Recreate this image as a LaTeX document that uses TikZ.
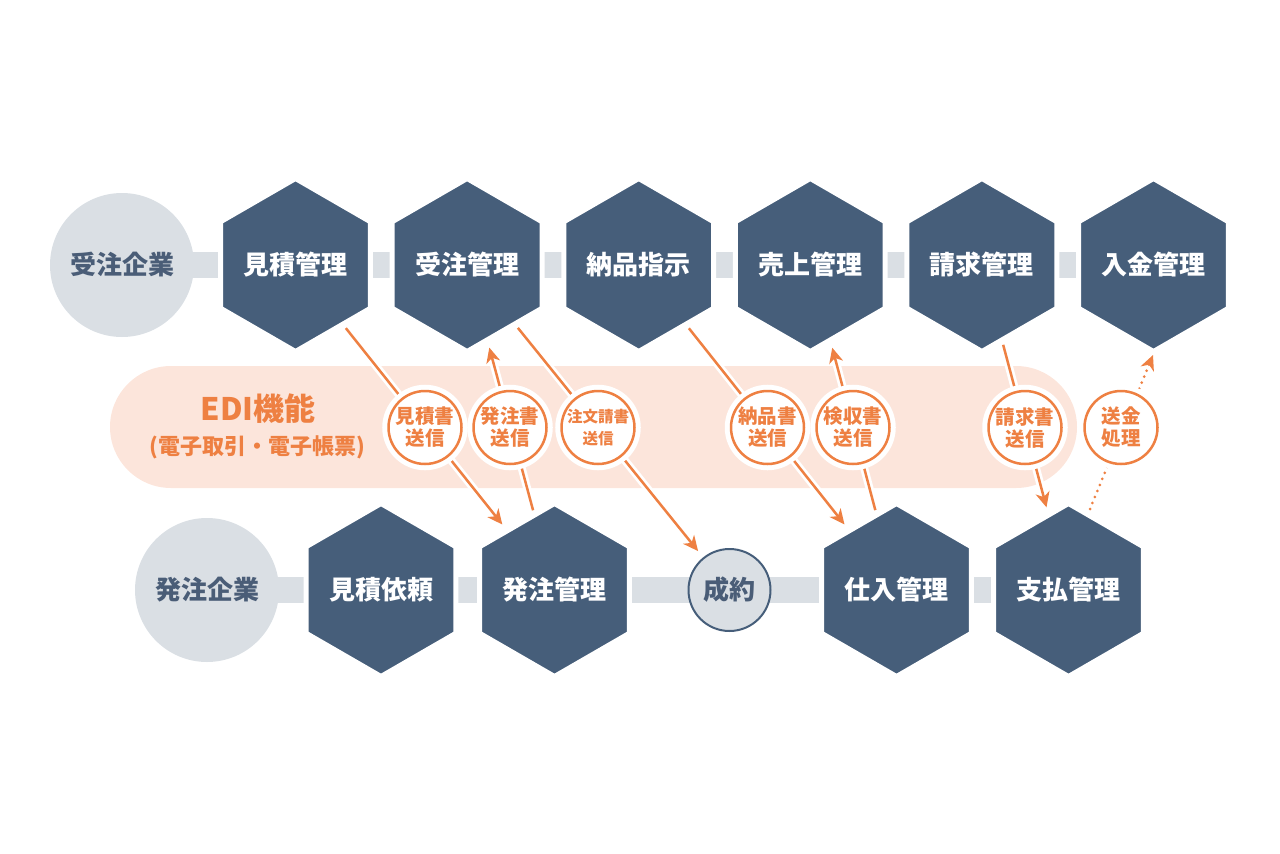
\documentclass[tikz,border=0pt]{standalone}
\usepackage{fontspec}
\setmainfont{Noto Sans CJK JP}
\usetikzlibrary{shapes.geometric,arrows.meta,backgrounds}
\definecolor{hexblue}{HTML}{465E7A}
\definecolor{lgray}{HTML}{DADFE4}
\definecolor{gtext}{HTML}{4A5D77}
\definecolor{edio}{HTML}{EE8042}
\definecolor{peach}{HTML}{FCE5DB}
\begin{document}
\begin{tikzpicture}[x=1pt,y=-1pt,
  hexnode/.style={regular polygon, regular polygon sides=6, shape border rotate=30,
    minimum size=173pt, inner sep=0pt, outer sep=0pt, fill=hexblue, draw=white,
    line width=5pt, text=white, font=\bfseries\fontsize{26}{30}\selectfont},
  company/.style={circle, fill=lgray, minimum size=144pt, inner sep=0pt,
    text=gtext, font=\bfseries\fontsize{26}{30}\selectfont},
  deal/.style={circle, fill=lgray, draw=hexblue, line width=2pt, minimum size=82pt,
    inner sep=0pt, text=gtext, font=\bfseries\fontsize{26}{30}\selectfont},
  lab/.style={circle, fill=white, draw=edio, line width=2.5pt, minimum size=73pt,
    inner sep=0pt, text=edio, align=center, font=\bfseries\fontsize{19.5}{22}\selectfont,
    preaction={draw=white, line width=12.5pt}},
  bar/.style={draw=lgray, line width=26pt},
  halo/.style={draw=white, line width=8pt, shorten <=5pt, shorten >=8pt},
  arr/.style={draw=edio, line width=2.5pt, -{Stealth[length=15pt,width=14pt,inset=4.5pt]},
    shorten <=5pt, shorten >=8pt},
  dotarr/.style={draw=edio, line width=3pt, dash pattern=on 0pt off 6.5pt, line cap=round,
    -{Stealth[length=15pt,width=14pt,inset=4.5pt]}}
]
\useasboundingbox (0,0) rectangle (1280,854);
% top row
\node[company] (jc) at (122,265) {受注企業};
\node[hexnode] (t1) at (295.5,265) {見積管理};
\node[hexnode] (t2) at (467.1,265) {受注管理};
\node[hexnode] (t3) at (638.7,265) {納品指示};
\node[hexnode] (t4) at (810.3,265) {売上管理};
\node[hexnode] (t5) at (981.9,265) {請求管理};
\node[hexnode] (t6) at (1153.5,265) {入金管理};
% bottom row
\node[company] (hc) at (207,590) {発注企業};
\node[hexnode] (b1) at (381,590) {見積依頼};
\node[hexnode] (b2) at (554.5,590) {発注管理};
\node[deal] (sy) at (729.5,590) {成約};
\node[hexnode] (b3) at (896.5,590) {仕入管理};
\node[hexnode] (b4) at (1068.5,590) {支払管理};
% background
\begin{scope}[on background layer]
  \fill[peach, rounded corners=61pt] (110,366) rectangle (1077,488);
  \draw[bar] (jc.center) -- (t6.center);
  \draw[bar] (hc.center) -- (b4.center);
\end{scope}
\node[text=edio, font=\bfseries\fontsize{31}{34}\selectfont] (edi) at (258,409) {EDI機能};
\node[text=edio, font=\bfseries\fontsize{22}{25}\selectfont] (edisub) at (257,447) {(電子取引・電子帳票)};
% connectors
\coordinate (d7s) at (1090,509);
\coordinate (d7e) at (1153,355);
\foreach \a/\b in {t1/b2, b2/t2, t2/sy, t3/b3, b3/t4, t5/b4}{
  \draw[halo] (\a) -- (\b);
}
\draw[arr] (t1) -- (b2);
\draw[arr] (b2) -- (t2);
\draw[arr] (t2) -- (sy);
\draw[arr] (t3) -- (b3);
\draw[arr] (b3) -- (t4);
\draw[arr] (t5) -- (b4);
\draw[dotarr] (d7s) -- (d7e);
% labels
\node[lab] (l1) at (425,427.5) {見積書\\送信};
\node[lab] (l2) at (510,427.5) {発注書\\送信};
\node[lab, font=\bfseries\fontsize{15.5}{22}\selectfont] (l3) at (598,427.5) {注文請書\\送信};
\node[lab] (l4) at (767.5,427.5) {納品書\\送信};
\node[lab] (l5) at (853,427.5) {検収書\\送信};
\node[lab] (l6) at (1025,427.5) {請求書\\送信};
\node[lab] (l7) at (1121,427.5) {送金\\処理};
\end{tikzpicture}
\end{document}
